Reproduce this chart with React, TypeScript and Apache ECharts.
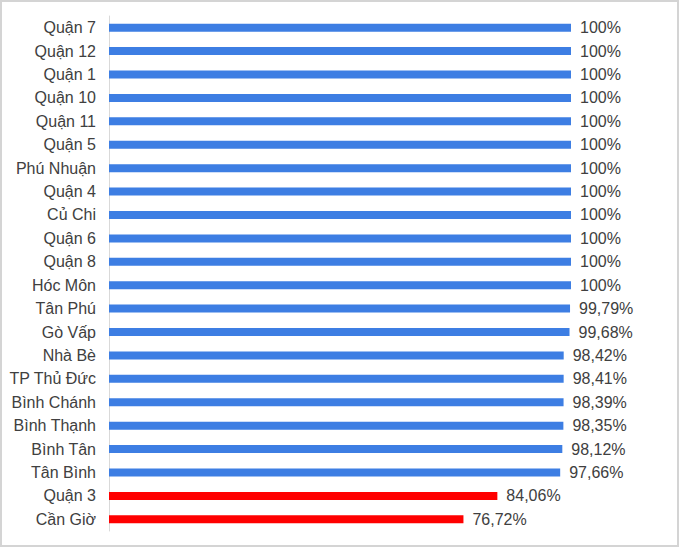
import React, { useEffect, useRef } from "react";
import * as echarts from "echarts";

const categories = [
  "Quận 7", "Quận 12", "Quận 1", "Quận 10", "Quận 11", "Quận 5", "Phú Nhuận", "Quận 4",
  "Củ Chi", "Quận 6", "Quận 8", "Hóc Môn", "Tân Phú", "Gò Vấp", "Nhà Bè", "TP Thủ Đức",
  "Bình Chánh", "Bình Thạnh", "Bình Tân", "Tân Bình", "Quận 3", "Cần Giờ",
];
const values = [
  100, 100, 100, 100, 100, 100, 100, 100, 100, 100, 100, 100,
  99.79, 99.68, 98.42, 98.41, 98.39, 98.35, 98.12, 97.66, 84.06, 76.72,
];
const lowThreshold = 90;

export default function App() {
  const ref = useRef<HTMLDivElement>(null);
  useEffect(() => {
    if (!ref.current) return;
    const chart = echarts.init(ref.current, null, { renderer: "svg" });
    chart.setOption({
      animation: false,
      backgroundColor: "#ffffff",
      textStyle: { fontFamily: "Liberation Sans, Arial, sans-serif" },
      graphic: [
        {
          type: "rect",
          shape: { x: 1, y: 1, width: 677, height: 545 },
          style: { fill: "none", stroke: "#d4d4d4", lineWidth: 2 },
          silent: true,
        },
      ],
      grid: { left: 109, right: 109, top: 16, bottom: 17 },
      xAxis: {
        type: "value",
        min: 0,
        max: 100,
        show: false,
      },
      yAxis: {
        type: "category",
        data: categories,
        inverse: true,
        axisLine: { show: true, lineStyle: { color: "#d9d9d9", width: 1 } },
        axisTick: { show: false },
        axisLabel: {
          color: "#404040",
          fontSize: 16,
          margin: 13,
          fontFamily: "Liberation Sans, Arial, sans-serif",
        },
      },
      series: [
        {
          type: "bar",
          barWidth: 8,
          data: values.map((v) => ({
            value: v,
            itemStyle: { color: v < lowThreshold ? "#ff0000" : "#3d7ee3" },
          })),
          label: {
            show: true,
            position: "right",
            distance: 9,
            color: "#404040",
            fontSize: 16,
            fontFamily: "Liberation Sans, Arial, sans-serif",
            formatter: (p: any) => String(p.value).replace(".", ",") + "%",
          },
        },
      ],
    });
    return () => chart.dispose();
  }, []);
  return (
    <div
      ref={ref}
      style={{ position: "fixed", left: 0, top: 0, width: 680, height: 548 }}
    />
  );
}
